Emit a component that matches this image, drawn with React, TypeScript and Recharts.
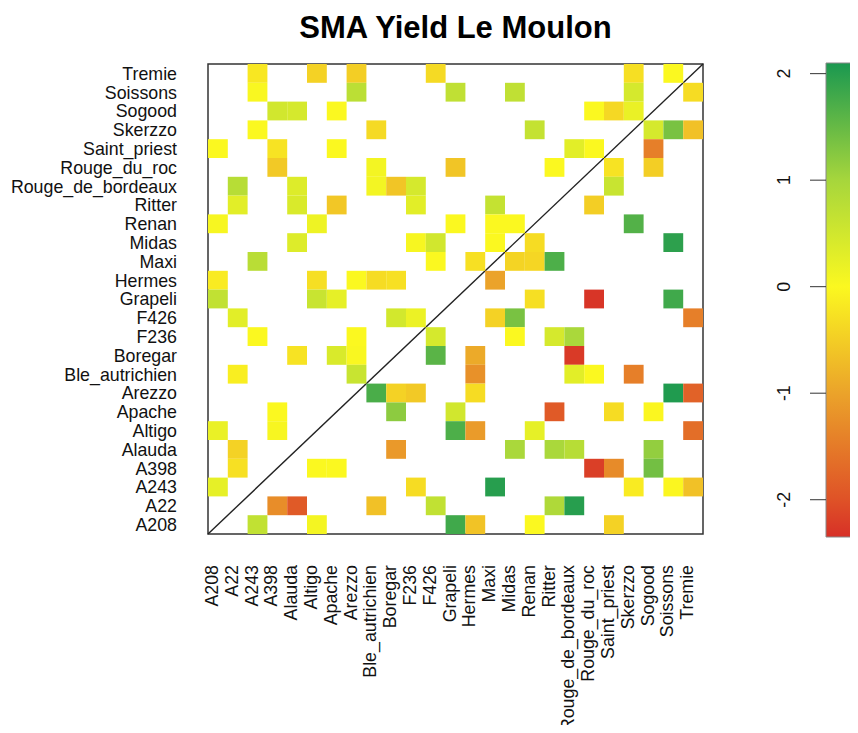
import React from "react";
import {
  Bar,
  BarChart,
  ReferenceArea,
  ReferenceLine,
  Scatter,
  ScatterChart,
  XAxis,
  YAxis,
} from "recharts";

const VARIETIES = [
  "A208",
  "A22",
  "A243",
  "A398",
  "Alauda",
  "Altigo",
  "Apache",
  "Arezzo",
  "Ble_autrichien",
  "Boregar",
  "F236",
  "F426",
  "Grapeli",
  "Hermes",
  "Maxi",
  "Midas",
  "Renan",
  "Ritter",
  "Rouge_de_bordeaux",
  "Rouge_du_roc",
  "Saint_priest",
  "Skerzzo",
  "Sogood",
  "Soissons",
  "Tremie",
];

// [row variety, column variety, SMA value]
const CELLS: [string, string, number][] = [
  ["Tremie", "A243", -0.2], ["Tremie", "Altigo", -0.45], ["Tremie", "Arezzo", -0.5],
  ["Tremie", "F426", -0.35], ["Tremie", "Skerzzo", -0.3], ["Tremie", "Soissons", 0],
  ["Soissons", "A243", 0.02], ["Soissons", "Arezzo", 0.75], ["Soissons", "Grapeli", 0.7],
  ["Soissons", "Midas", 0.7], ["Soissons", "Skerzzo", 0.45], ["Soissons", "Tremie", -0.33],
  ["Sogood", "A398", 0.5], ["Sogood", "Alauda", 0.45], ["Sogood", "Apache", 0],
  ["Sogood", "Rouge_du_roc", 0], ["Sogood", "Saint_priest", -0.38], ["Sogood", "Skerzzo", 0.2],
  ["Skerzzo", "A243", 0], ["Skerzzo", "Ble_autrichien", -0.35], ["Skerzzo", "Renan", 0.65],
  ["Skerzzo", "Sogood", 0.45], ["Skerzzo", "Soissons", 1.35], ["Skerzzo", "Tremie", -0.65],
  ["Saint_priest", "A208", 0], ["Saint_priest", "A398", -0.25], ["Saint_priest", "Apache", 0],
  ["Saint_priest", "Rouge_de_bordeaux", 0.3], ["Saint_priest", "Rouge_du_roc", 0], ["Saint_priest", "Sogood", -1.45],
  ["Rouge_du_roc", "A398", -0.55], ["Rouge_du_roc", "Ble_autrichien", 0.1], ["Rouge_du_roc", "Grapeli", -0.6],
  ["Rouge_du_roc", "Ritter", 0], ["Rouge_du_roc", "Saint_priest", -0.25], ["Rouge_du_roc", "Sogood", -0.5],
  ["Rouge_de_bordeaux", "A22", 0.8], ["Rouge_de_bordeaux", "Alauda", 0.35], ["Rouge_de_bordeaux", "Ble_autrichien", 0.1],
  ["Rouge_de_bordeaux", "Boregar", -0.6], ["Rouge_de_bordeaux", "F236", 0.45], ["Rouge_de_bordeaux", "Saint_priest", 0.6],
  ["Ritter", "A22", 0.3], ["Ritter", "Alauda", 0.4], ["Ritter", "Apache", -0.58],
  ["Ritter", "F236", 0.3], ["Ritter", "Maxi", 0.65], ["Ritter", "Rouge_du_roc", -0.5],
  ["Renan", "A208", 0.05], ["Renan", "Altigo", 0.15], ["Renan", "Grapeli", 0],
  ["Renan", "Maxi", 0], ["Renan", "Midas", 0], ["Renan", "Skerzzo", 1.65],
  ["Midas", "Alauda", 0.35], ["Midas", "F236", 0.05], ["Midas", "F426", 0.5],
  ["Midas", "Maxi", 0], ["Midas", "Renan", -0.33], ["Midas", "Soissons", 1.95],
  ["Maxi", "A243", 0.78], ["Maxi", "F426", 0], ["Maxi", "Hermes", -0.28],
  ["Maxi", "Midas", -0.42], ["Maxi", "Renan", -0.4], ["Maxi", "Ritter", 1.7],
  ["Hermes", "A208", -0.15], ["Hermes", "Altigo", -0.3], ["Hermes", "Arezzo", 0],
  ["Hermes", "Ble_autrichien", -0.33], ["Hermes", "Boregar", -0.28], ["Hermes", "Maxi", -1.0],
  ["Grapeli", "A208", 0.68], ["Grapeli", "Altigo", 0.6], ["Grapeli", "Apache", 0.25],
  ["Grapeli", "Renan", -0.3], ["Grapeli", "Rouge_du_roc", -2.3], ["Grapeli", "Soissons", 1.8],
  ["F426", "A22", 0.3], ["F426", "Boregar", 0.48], ["F426", "F236", 0.18],
  ["F426", "Maxi", -0.45], ["F426", "Midas", 1.35], ["F426", "Tremie", -1.45],
  ["F236", "A243", 0], ["F236", "Arezzo", 0], ["F236", "F426", 0.45],
  ["F236", "Midas", 0], ["F236", "Ritter", 0.45], ["F236", "Rouge_de_bordeaux", 0.95],
  ["Boregar", "Alauda", -0.25], ["Boregar", "Apache", 0.4], ["Boregar", "Arezzo", 0.02],
  ["Boregar", "F426", 1.6], ["Boregar", "Hermes", -0.92], ["Boregar", "Rouge_de_bordeaux", -2.25],
  ["Ble_autrichien", "A22", -0.12], ["Ble_autrichien", "Arezzo", 0.6], ["Ble_autrichien", "Hermes", -1.22],
  ["Ble_autrichien", "Rouge_de_bordeaux", 0.3], ["Ble_autrichien", "Rouge_du_roc", 0], ["Ble_autrichien", "Skerzzo", -1.45],
  ["Arezzo", "Ble_autrichien", 1.72], ["Arezzo", "Boregar", -0.45], ["Arezzo", "F236", -0.55],
  ["Arezzo", "Hermes", -0.33], ["Arezzo", "Soissons", 2.05], ["Arezzo", "Tremie", -1.8],
  ["Apache", "A398", 0], ["Apache", "Boregar", 1.2], ["Apache", "Grapeli", 0.5],
  ["Apache", "Ritter", -1.9], ["Apache", "Saint_priest", -0.33], ["Apache", "Sogood", -0.02],
  ["Altigo", "A208", 0.2], ["Altigo", "A398", 0.05], ["Altigo", "Grapeli", 1.7],
  ["Altigo", "Hermes", -1.1], ["Altigo", "Renan", 0.25], ["Altigo", "Tremie", -1.65],
  ["Alauda", "A22", -0.45], ["Alauda", "Boregar", -1.12], ["Alauda", "Midas", 0.95],
  ["Alauda", "Ritter", 0.95], ["Alauda", "Rouge_de_bordeaux", 0.8], ["Alauda", "Sogood", 1.15],
  ["A398", "A22", -0.28], ["A398", "Altigo", 0], ["A398", "Apache", 0],
  ["A398", "Rouge_du_roc", -2.2], ["A398", "Saint_priest", -1.3], ["A398", "Sogood", 1.4],
  ["A243", "A208", 0.25], ["A243", "F236", -0.33], ["A243", "Maxi", 2.0],
  ["A243", "Skerzzo", -0.15], ["A243", "Soissons", -0.02], ["A243", "Tremie", -0.65],
  ["A22", "A398", -1.27], ["A22", "Alauda", -1.9], ["A22", "Ble_autrichien", -0.65],
  ["A22", "F426", 0.68], ["A22", "Ritter", 0.9], ["A22", "Rouge_de_bordeaux", 2.0],
  ["A208", "A243", 0.68], ["A208", "Altigo", 0.08], ["A208", "Grapeli", 1.8],
  ["A208", "Hermes", -0.62], ["A208", "Renan", 0], ["A208", "Saint_priest", -0.45],
];

const LEGEND_MIN = -2.35;
const LEGEND_MAX = 2.1;
const LEGEND_TICKS = [-2, -1, 0, 1, 2];

// value -> colour stops of the ramp
const RAMP: [number, string][] = [
  [-2.35, "#d73027"],
  [-2, "#df5227"],
  [-1, "#eba32a"],
  [0, "#fbf820"],
  [1, "#a6d63c"],
  [2.1, "#1a9850"],
];

const FONT = "'Liberation Sans', Arial, sans-serif";
const LABEL_SIZE = 17.8;
const N = VARIETIES.length;
const PLOT_W = 495;
const PLOT_H = 470;
const CELL_W = PLOT_W / N;
const CELL_H = PLOT_H / N;

function hexToRgb(h: string) {
  const n = parseInt(h.slice(1), 16);
  return [(n >> 16) & 255, (n >> 8) & 255, n & 255];
}

function rampColor(v: number) {
  if (v <= RAMP[0][0]) return RAMP[0][1];
  for (let i = 1; i < RAMP.length; i++) {
    const [v1, c1] = RAMP[i];
    const [v0, c0] = RAMP[i - 1];
    if (v <= v1) {
      const t = (v - v0) / (v1 - v0);
      const a = hexToRgb(c0);
      const b = hexToRgb(c1);
      const rgb = a.map((x, k) => Math.round(x + (b[k] - x) * t));
      return `rgb(${rgb[0]},${rgb[1]},${rgb[2]})`;
    }
  }
  return RAMP[RAMP.length - 1][1];
}

const tiles = CELLS.map(([row, col, v]) => ({
  x: VARIETIES.indexOf(col) + 0.5,
  y: VARIETIES.indexOf(row) + 0.5,
  v,
}));

const ticks = VARIETIES.map((_, i) => i + 0.5);
const nameOf = (v: number) => VARIETIES[Math.floor(v)] ?? "";

function Tile(props: any) {
  const { cx, cy, payload } = props;
  if (cx == null || cy == null) return null;
  return (
    <rect
      x={cx - CELL_W / 2}
      y={cy - CELL_H / 2}
      width={CELL_W}
      height={CELL_H}
      fill={rampColor(payload.v)}
    />
  );
}

function BottomTick({ x, y, payload }: any) {
  return (
    <text
      x={x}
      y={y}
      transform={`rotate(-90 ${x} ${y})`}
      textAnchor="end"
      fontSize={LABEL_SIZE}
      fontFamily={FONT}
      fill="#111"
    >
      {nameOf(payload.value)}
    </text>
  );
}

function LegendTick({ x, y, payload }: any) {
  return (
    <text
      x={x}
      y={y}
      transform={`rotate(-90 ${x} ${y})`}
      textAnchor="middle"
      fontSize={LABEL_SIZE}
      fontFamily={FONT}
      fill="#111"
    >
      {payload.value}
    </text>
  );
}

const legendData = [{ name: "SMA", range: [LEGEND_MIN, LEGEND_MAX] }];

export default function App() {
  const span = LEGEND_MAX - LEGEND_MIN;
  return (
    <div
      style={{
        position: "relative",
        width: 858,
        height: 733,
        margin: -8,
        overflow: "hidden",
        background: "#fff",
        fontFamily: FONT,
      }}
    >
      <div
        style={{
          position: "absolute",
          left: 158,
          top: 13,
          width: 595,
          textAlign: "center",
          fontSize: 31,
          lineHeight: "30px",
          fontWeight: 700,
          color: "#000",
        }}
      >
        SMA Yield Le Moulon
      </div>

      <div style={{ position: "absolute", left: 0, top: 0 }}>
        <ScatterChart
          width={710}
          height={733}
          margin={{ top: 64, right: 7, bottom: 0, left: 0 }}
        >
          <XAxis
            type="number"
            dataKey="x"
            domain={[0, N]}
            ticks={ticks}
            interval={0}
            height={199}
            axisLine={false}
            tickLine={false}
            tickSize={0}
            tickMargin={31}
            tick={<BottomTick />}
          />
          <YAxis
            type="number"
            dataKey="y"
            domain={[0, N]}
            ticks={ticks}
            interval={0}
            width={208}
            axisLine={false}
            tickLine={false}
            tickSize={0}
            tickMargin={31}
            tickFormatter={nameOf}
            tick={{ fontSize: LABEL_SIZE, fontFamily: FONT, fill: "#111" }}
          />
          <Scatter data={tiles} shape={<Tile />} isAnimationActive={false} />
          <ReferenceLine
            segment={[
              { x: 0, y: 0 },
              { x: N, y: N },
            ]}
            stroke="#222"
            strokeWidth={1.4}
          />
          <ReferenceArea
            x1={0}
            x2={N}
            y1={0}
            y2={N}
            fill="none"
            fillOpacity={0}
            stroke="#333"
            strokeWidth={1.5}
          />
        </ScatterChart>
      </div>

      <div style={{ position: "absolute", left: 700, top: 0 }}>
        <BarChart
          width={190}
          height={733}
          data={legendData}
          margin={{ top: 63, right: 0, bottom: 196, left: 0 }}
          barCategoryGap={0}
        >
          <defs>
            <linearGradient id="smaRamp" x1="0" y1="0" x2="0" y2="1">
              {RAMP.slice()
                .reverse()
                .map(([v, c]) => (
                  <stop
                    key={v}
                    offset={`${((LEGEND_MAX - v) / span) * 100}%`}
                    stopColor={c}
                  />
                ))}
            </linearGradient>
          </defs>
          <XAxis dataKey="name" hide />
          <YAxis
            type="number"
            domain={[LEGEND_MIN, LEGEND_MAX]}
            ticks={LEGEND_TICKS}
            width={126}
            axisLine={false}
            tickLine={{ stroke: "#333" }}
            tickSize={16}
            tickMargin={20}
            tick={<LegendTick />}
          />
          <Bar
            dataKey="range"
            fill="url(#smaRamp)"
            stroke="#888"
            strokeWidth={1}
            isAnimationActive={false}
          />
        </BarChart>
      </div>
    </div>
  );
}
